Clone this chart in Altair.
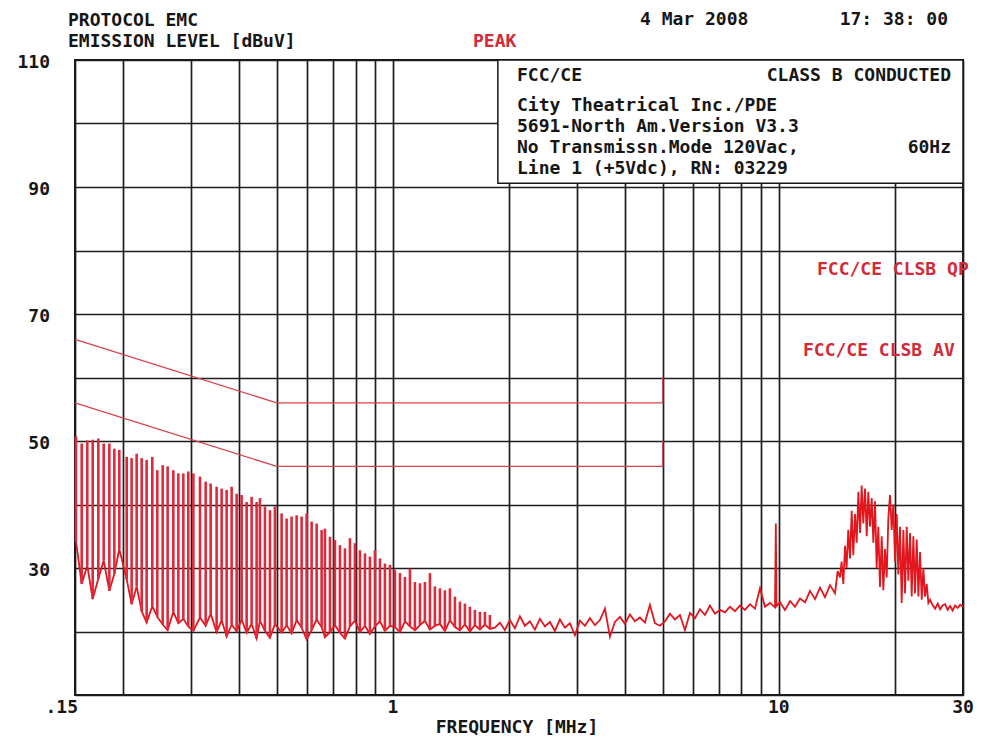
import altair as alt
import pandas as pd

# ---------------- data ----------------
# comb of harmonics at the low end (teeth): frequency [MHz], peak level, base level [dBuV]
comb_freq = [0.1509, 0.1561, 0.1614, 0.1667, 0.1724, 0.1780, 0.1841, 0.1897, 0.1954, 0.2042,
             0.2103, 0.2167, 0.2233, 0.2300, 0.2379, 0.2451, 0.2531, 0.2607, 0.2697, 0.2779,
             0.2863, 0.2949, 0.3039, 0.3162, 0.3271, 0.3370, 0.3492, 0.3598, 0.3707, 0.3819,
             0.3935, 0.4054, 0.4177, 0.4303, 0.4433, 0.4522, 0.4659, 0.4800, 0.4945, 0.5146,
             0.5302, 0.5462, 0.5628, 0.5798, 0.5974, 0.6155, 0.6342, 0.6533, 0.6665, 0.6866,
             0.7074, 0.7288, 0.7509, 0.7736, 0.7970, 0.8211, 0.8461, 0.8715, 0.8980, 0.9253,
             0.9532, 0.9822, 1.0118, 1.0425, 1.0740, 1.1066, 1.1399, 1.1746, 1.2100, 1.2467,
             1.2843, 1.3233, 1.3632, 1.4046, 1.4473, 1.4910, 1.5363, 1.5827, 1.6306, 1.6799,
             1.7308, 1.7829]
comb_peak = [50.7, 49.6, 50.1, 50.2, 50.4, 49.6, 49.6, 48.8, 48.6, 47.5,
             47.3, 48.0, 47.3, 47.0, 47.5, 45.4, 46.2, 46.0, 45.4, 44.9,
             44.9, 45.2, 44.9, 44.4, 43.6, 43.3, 42.8, 42.5, 42.3, 42.8,
             41.7, 41.5, 40.4, 41.2, 40.4, 41.0, 39.7, 39.1, 39.7, 38.6,
             37.8, 38.1, 38.3, 38.1, 38.6, 37.3, 37.0, 36.0, 36.2, 34.9,
             34.4, 33.6, 33.1, 34.7, 33.9, 32.8, 32.3, 31.8, 32.8, 31.5,
             30.7, 30.5, 29.7, 29.2, 28.6, 29.9, 27.8, 27.6, 27.8, 29.2,
             27.1, 26.8, 26.5, 26.8, 25.5, 24.7, 24.4, 23.9, 23.4, 23.1,
             23.1, 22.6]
comb_floor = [34.2, 27.5, 30.4, 25.1, 28.3, 31.2, 26.4, 29.1, 33.0, 28.2,
              24.3, 27.1, 23.2, 21.4, 24.0, 22.3, 21.1, 20.2, 23.1, 21.3,
              22.0, 20.8, 20.1, 22.2, 20.9, 22.8, 19.9, 21.8, 19.2, 21.1,
              20.0, 21.9, 19.8, 21.2, 18.9, 21.7, 20.1, 19.0, 21.2, 19.8,
              21.0, 19.7, 21.8, 20.6, 18.8, 20.2, 21.9, 20.7, 19.1, 19.9,
              21.0, 19.8, 18.9, 20.8, 21.7, 19.9, 20.9, 19.6, 20.8, 21.6,
              20.1, 20.9, 20.7, 19.9, 21.6, 20.8, 20.2, 21.0, 21.7, 20.3,
              20.9, 21.2, 20.1, 21.8, 20.7, 20.2, 21.1, 20.0, 21.0, 20.3,
              21.1, 20.4]

# noise floor between ~1.8 MHz and the 15-25 MHz hump
hf_freq = [1.837, 1.893, 1.950, 2.009, 2.070, 2.133, 2.197, 2.264, 2.332, 2.403,
           2.476, 2.551, 2.628, 2.708, 2.790, 2.874, 2.961, 3.051, 3.143, 3.239,
           3.337, 3.438, 3.542, 3.649, 3.760, 3.874, 3.991, 4.112, 4.236, 4.365,
           4.497, 4.633, 4.773, 4.918, 5.067, 5.220, 5.379, 5.542, 5.709, 5.882,
           6.061, 6.244, 6.433, 6.628, 6.829, 7.036, 7.249, 7.469, 7.695, 7.928,
           8.169, 8.416, 8.671, 8.934, 9.205, 9.484, 9.771, 9.82, 9.86, 10.07,
           10.37, 10.69, 11.01, 11.34, 11.69, 12.04, 12.41, 12.78, 13.17, 13.57,
           13.98, 14.20]
hf_level = [20.6, 21.4, 20.2, 21.8, 20.5, 22.4, 20.9, 21.6, 20.3, 22.0,
            20.8, 21.5, 20.1, 21.9, 20.6, 21.3, 19.4, 21.7, 20.9, 22.1,
            21.0, 21.8, 23.6, 19.2, 21.5, 22.3, 21.2, 22.7, 21.6, 22.2,
            21.4, 24.2, 21.3, 20.9, 21.6, 22.8, 21.9, 22.6, 20.2, 22.9,
            22.1, 23.5, 22.6, 24.1, 22.8, 23.4, 23.0, 23.9, 23.2, 24.1,
            23.4, 24.3, 23.6, 26.8, 23.9, 24.5, 23.8, 37.0, 24.0, 24.6,
            23.4, 24.8, 23.9, 25.2, 24.6, 26.4, 25.1, 26.9, 25.4, 27.3,
            26.0, 29.5]

# the 15-25 MHz hump
band_freq = [14.40, 14.54, 14.69, 14.84, 14.98, 15.13, 15.29, 15.44, 15.59, 15.75,
             15.91, 16.07, 16.23, 16.39, 16.55, 16.72, 16.89, 17.05, 17.22, 17.40,
             17.57, 17.75, 17.92, 18.10, 18.28, 18.47, 18.65, 18.84, 19.03, 19.22,
             19.41, 19.60, 19.80, 20.00, 20.20, 20.40, 20.60, 20.81, 21.02, 21.23,
             21.44, 21.65, 21.87, 22.09, 22.31, 22.53, 22.76, 22.99, 23.22, 23.45,
             23.68, 23.92, 24.16, 24.40, 24.65]
band_level = [28.5, 31.0, 27.5, 33.5, 30.0, 36.0, 31.5, 39.0, 32.0, 38.5,
              34.0, 42.0, 35.5, 43.0, 37.0, 42.5, 35.0, 42.0, 36.5, 41.0,
              34.0, 40.5, 30.0, 36.5, 27.0, 35.0, 26.5, 33.0, 28.5, 38.0,
              41.5, 36.0, 40.0, 31.0, 38.5, 29.0, 36.5, 24.5, 36.0, 26.0,
              36.5, 28.0, 35.5, 25.5, 35.0, 26.0, 34.5, 25.5, 32.5, 25.0,
              30.0, 25.5, 27.5, 24.5, 25.0]

tail_freq = [25.00, 25.40, 25.80, 26.17, 26.56, 26.96, 27.37, 27.78, 28.20, 28.62, 29.05, 29.49, 30.0]
tail_level = [24.2, 23.6, 24.4, 23.5, 24.1, 24.3, 23.4, 24.0, 23.3, 24.1, 23.7, 24.2, 23.9]

# FCC / CE class B limit lines
qp_freq = [0.15, 0.5, 5.0, 5.0]
qp_level = [66, 56, 56, 60]
av_freq = [0.15, 0.5, 5.0, 5.0]
av_level = [56, 46, 46, 50]

# grid and tick labels
x_grid = [0.15, 0.2, 0.3, 0.4, 0.5, 0.6, 0.7, 0.8, 0.9, 1, 2, 3, 4, 5, 6, 7, 8, 9, 10, 20, 30]
y_grid = [10, 20, 30, 40, 50, 60, 70, 80, 90, 100, 110]
x_label_values = [1, 10, 30]
x_label_text = ["1", "10", "30"]
first_x_label = [".15"]
y_label_values = [110, 90, 70, 50, 30]
y_label_text = ["110", "90", "70", "50", "30"]

# info box (frequency / level extent)
box_f = [1.87, 30.0]
box_v = [110.0, 90.6]

# ---------------- chart ----------------
W, H = 888, 635
RED = "#e3161e"
TOOTH = "#e02a3c"
LIMIT = "#d8424c"
TRED = "#d22a38"
INK = "#161616"
FONT = "DejaVu Sans Mono"
FS = 18
FW = "bold"

xscale = alt.Scale(type="log", domain=[0.15, 30], nice=False)
yscale = alt.Scale(domain=[10, 110], nice=False, zero=False)
xaxis = alt.Axis(values=x_grid, grid=True, labels=False, ticks=False, domain=False,
                 title=None, gridColor="#1e1e1e", gridWidth=1.7, gridOpacity=1)
yaxis = alt.Axis(values=y_grid, grid=True, labels=False, ticks=False, domain=False,
                 title=None, gridColor="#1e1e1e", gridWidth=1.7, gridOpacity=1)


def X(field):
    return alt.X(field, scale=xscale, axis=xaxis)


def Y(field):
    return alt.Y(field, scale=yscale, axis=yaxis)


trace_df = pd.DataFrame({"f": comb_freq + hf_freq + band_freq + tail_freq,
                         "v": comb_floor + hf_level + band_level + tail_level})
teeth_df = pd.DataFrame({"f": comb_freq, "lo": comb_floor, "hi": comb_peak})
limit_df = pd.DataFrame({"f": qp_freq + av_freq, "v": qp_level + av_level,
                         "k": ["QP"] * len(qp_freq) + ["AV"] * len(av_freq),
                         "i": list(range(len(qp_freq) + len(av_freq)))})
box_df = pd.DataFrame({"f1": [box_f[0]], "f2": [box_f[1]], "v1": [box_v[0]], "v2": [box_v[1]]})

trace = alt.Chart(trace_df).mark_line(color=RED, strokeWidth=1.8, strokeJoin="miter").encode(
    x=X("f:Q"), y=Y("v:Q"))
teeth = alt.Chart(teeth_df).mark_rule(color=TOOTH, strokeWidth=2.6).encode(
    x=X("f:Q"), y=Y("lo:Q"), y2="hi:Q")
limits = alt.Chart(limit_df).mark_line(color=LIMIT, strokeWidth=1.3).encode(
    x=X("f:Q"), y=Y("v:Q"), detail="k:N", order="i:Q")
box = alt.Chart(box_df).mark_rect(fill="white", stroke=INK, strokeWidth=1.5).encode(
    x=X("f1:Q"), x2="f2:Q", y=Y("v1:Q"), y2="v2:Q")

xlab_df = pd.DataFrame({"v": x_label_values, "t": x_label_text})
xlabels = alt.Chart(xlab_df).mark_text(font=FONT, fontSize=FS, fontWeight=FW, color=INK,
                                       align="center", baseline="middle").encode(
    x=X("v:Q"), y=alt.value(H + 13), text="t:N")
xlab0 = alt.Chart(pd.DataFrame({"v": [0.15], "t": first_x_label})).mark_text(
    font=FONT, fontSize=FS, fontWeight=FW, color=INK, align="right", baseline="middle",
    dx=3).encode(x=X("v:Q"), y=alt.value(H + 13), text="t:N")
ylab_df = pd.DataFrame({"v": y_label_values, "t": y_label_text})
ylabels = alt.Chart(ylab_df).mark_text(font=FONT, fontSize=FS, fontWeight=FW, color=INK,
                                       align="right", baseline="middle", dy=3).encode(
    y=Y("v:Q"), x=alt.value(-25), text="t:N")


def label(text, x, y, align="left", color=INK, size=FS):
    return alt.Chart(pd.DataFrame({"t": [text]})).mark_text(
        font=FONT, fontSize=size, fontWeight=FW, color=color, align=align,
        baseline="middle").encode(x=alt.value(x), y=alt.value(y), text="t:N")


texts = [
    label("PROTOCOL EMC", -7, -39),
    label("EMISSION LEVEL [dBuV]", -7, -18),
    label("PEAK", 398, -18, color=TRED),
    label("4 Mar 2008", 565, -40),
    label("17: 38: 00", 873, -40, align="right"),
    label("FCC/CE", 442, 16),
    label("CLASS B CONDUCTED", 876, 16, align="right"),
    label("City Theatrical Inc./PDE", 442, 46),
    label("5691-North Am.Version V3.3", 442, 67),
    label("No Transmissn.Mode 120Vac,", 442, 88),
    label("60Hz", 876, 88, align="right"),
    label("Line 1 (+5Vdc), RN: 03229", 442, 109),
    label("FCC/CE CLSB QP", 742, 210, color=TRED),
    label("FCC/CE CLSB AV", 728, 291, color=TRED),
    label("FREQUENCY [MHz]", 442, 668, align="center"),
]

chart = alt.layer(trace, teeth, limits, box, xlabels, xlab0, ylabels, *texts).properties(
    width=W, height=H,
    padding={"left": 67, "top": 52, "right": 30, "bottom": 43},
    autosize=alt.AutoSizeParams(type="none"),
    background="white",
).configure_view(stroke=INK, strokeWidth=2)

chart.save("out.html", embed_options={"renderer": "svg", "actions": False})
